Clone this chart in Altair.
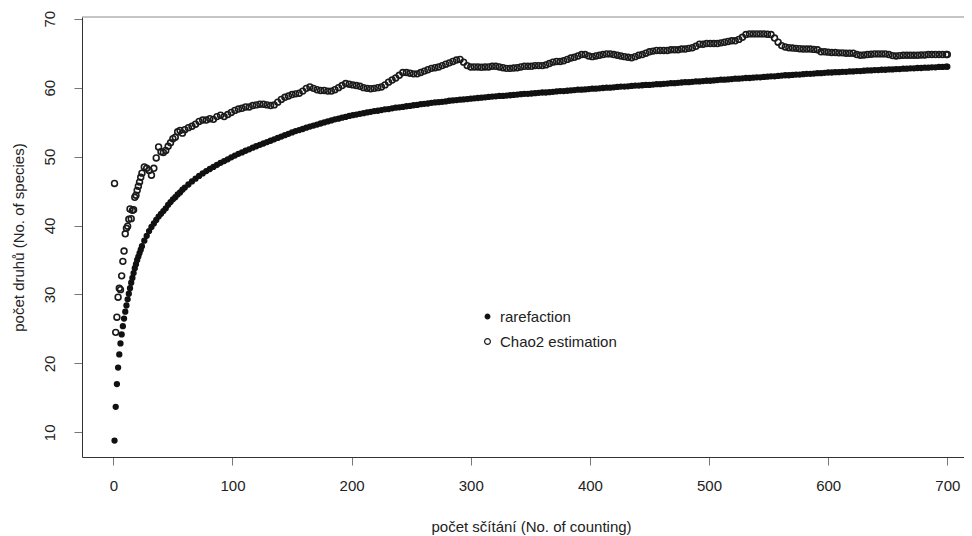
import altair as alt
import pandas as pd

# sampled counting numbers (x positions)
xs = list(range(1, 25)) + list(range(26, 61, 2)) + list(range(63, 700, 3)) + [700]

rarefaction = [
    8.8, 13.7, 17.0, 19.4, 21.3, 22.9, 24.2, 25.4, 26.5, 27.5, 28.4, 29.3,
    30.1, 30.9, 31.7, 32.4, 33.1, 33.8, 34.4, 35.0, 35.5, 36.0, 36.5, 37.0,
    37.8, 38.5, 39.2, 39.8, 40.3, 40.8, 41.3, 41.7, 42.1, 42.5, 43.0, 43.4,
    43.8, 44.1, 44.5, 44.8, 45.2, 45.5,
    45.95, 46.4, 46.8, 47.2, 47.55, 47.9, 48.2, 48.5, 48.8, 49.1,
    49.35, 49.6, 49.9, 50.15, 50.4, 50.6, 50.85, 51.05, 51.3, 51.5,
    51.7, 51.9, 52.1, 52.3, 52.5, 52.7, 52.9, 53.1, 53.3, 53.5,
    53.7, 53.85, 54.0, 54.2, 54.35, 54.5, 54.65, 54.8, 54.95, 55.1,
    55.25, 55.4, 55.5, 55.65, 55.75, 55.9, 56.0, 56.1, 56.2, 56.3,
    56.4, 56.5, 56.6, 56.65, 56.75, 56.85, 56.9, 57.0, 57.1, 57.15,
    57.2, 57.3, 57.35, 57.45, 57.5, 57.6, 57.65, 57.7, 57.8, 57.85,
    57.9, 57.95, 58.0, 58.1, 58.15, 58.2, 58.25, 58.3, 58.35, 58.4,
    58.45, 58.5, 58.55, 58.6, 58.65, 58.7, 58.75, 58.8, 58.8, 58.85,
    58.9, 58.95, 59.0, 59.05, 59.1, 59.1, 59.15, 59.2, 59.25, 59.3,
    59.3, 59.35, 59.4, 59.45, 59.5, 59.5, 59.55, 59.6, 59.65, 59.7,
    59.7, 59.75, 59.8, 59.85, 59.85, 59.9, 59.95, 60.0, 60.0, 60.05,
    60.1, 60.15, 60.15, 60.2, 60.25, 60.3, 60.3, 60.35, 60.4, 60.4,
    60.45, 60.5, 60.5, 60.55, 60.6, 60.65, 60.65, 60.7, 60.75, 60.8,
    60.8, 60.85, 60.9, 60.9, 60.95, 61.0, 61.0, 61.05, 61.1, 61.15,
    61.15, 61.2, 61.25, 61.3, 61.3, 61.35, 61.4, 61.4, 61.45, 61.5,
    61.5, 61.55, 61.6, 61.65, 61.65, 61.7, 61.75, 61.8, 61.8, 61.85,
    61.9, 61.9, 61.95, 62.0, 62.0, 62.05, 62.1, 62.1, 62.15, 62.2,
    62.2, 62.25, 62.25, 62.3, 62.3, 62.35, 62.35, 62.4, 62.4, 62.45,
    62.5, 62.5, 62.55, 62.55, 62.6, 62.6, 62.65, 62.65, 62.7, 62.7,
    62.75, 62.75, 62.8, 62.8, 62.85, 62.85, 62.9, 62.9, 62.95, 62.95,
    63.0, 63.0, 63.05,
    63.05,
]

chao2 = [
    46.1, 24.5, 26.7, 29.6, 30.9, 30.7, 32.7, 34.8, 36.3, 38.8, 39.6, 39.9,
    40.9, 42.4, 41.0, 42.2, 42.3, 44.1, 44.4, 45.1, 45.7, 46.3, 47.0, 47.6,
    48.5, 48.3, 48.0, 47.3, 48.3, 49.8, 51.4, 50.7, 50.6, 50.9, 51.5, 52.0,
    52.6, 52.8, 53.6, 53.8, 53.4, 53.9,
    54.2, 54.4, 54.7, 55.1, 55.3, 55.3, 55.5, 55.4, 55.8, 56.0,
    55.8, 56.1, 56.4, 56.7, 56.9, 57.0, 57.2, 57.2, 57.4, 57.5,
    57.6, 57.6, 57.5, 57.4, 57.5, 57.9, 58.3, 58.6, 58.8, 59.0,
    59.1, 59.2, 59.5, 59.9, 60.1, 59.9, 59.7, 59.6, 59.6, 59.5,
    59.5, 59.7, 60.0, 60.3, 60.6, 60.5, 60.4, 60.3, 60.2, 60.0,
    59.9, 59.85, 59.9, 60.0, 60.1, 60.4, 60.8, 61.1, 61.4, 61.8,
    62.2, 62.2, 62.1, 62.0, 62.0, 62.2, 62.4, 62.6, 62.8, 62.9,
    63.0, 63.2, 63.4, 63.6, 63.8, 64.0, 64.1, 63.7, 63.2, 63.0,
    63.0, 63.0, 62.95, 63.0, 63.0, 63.1, 63.1, 63.0, 62.9, 62.8,
    62.8, 62.85, 62.9, 63.0, 63.1, 63.1, 63.1, 63.2, 63.2, 63.2,
    63.3, 63.5, 63.7, 63.8, 63.8, 63.9, 64.1, 64.3, 64.4, 64.6,
    64.8, 64.8, 64.6, 64.5, 64.6, 64.7, 64.8, 64.9, 64.9, 64.8,
    64.7, 64.6, 64.5, 64.4, 64.35, 64.5, 64.7, 64.8, 65.0, 65.2,
    65.3, 65.4, 65.4, 65.4, 65.4, 65.5, 65.5, 65.5, 65.6, 65.6,
    65.7, 65.8, 66.0, 66.3, 66.3, 66.4, 66.4, 66.4, 66.4, 66.5,
    66.6, 66.7, 66.8, 66.8, 67.0, 67.3, 67.7, 67.8, 67.8, 67.8,
    67.8, 67.8, 67.75, 67.7, 67.2, 66.6, 66.1, 65.9, 65.8, 65.75,
    65.7, 65.65, 65.6, 65.6, 65.6, 65.55, 65.5, 65.2, 65.2, 65.15,
    65.1, 65.1, 65.05, 65.05, 65.0, 65.0, 65.0, 64.8, 64.7, 64.75,
    64.8, 64.85, 64.9, 64.9, 64.9, 64.9, 64.8, 64.65, 64.6, 64.65,
    64.7, 64.7, 64.7, 64.7, 64.7, 64.75, 64.75, 64.8, 64.8, 64.8,
    64.8, 64.8, 64.8,
    64.8,
]

assert len(xs) == len(rarefaction) == len(chao2), (len(xs), len(rarefaction), len(chao2))

series_names = ["rarefaction", "Chao2 estimation"]
x_ticks = [0, 100, 200, 300, 400, 500, 600, 700]
y_ticks = [10, 20, 30, 40, 50, 60, 70]

n = len(xs)
df = pd.DataFrame({
    "x": xs + xs,
    "y": rarefaction + chao2,
    "series": [series_names[0]] * n + [series_names[1]] * n,
})

W, H = 882, 440
FONT = "Liberation Sans"
TXT = "#222222"

legend = alt.Legend(
    title=None, orient="none", legendX=398, legendY=292,
    labelFont=FONT, labelFontSize=15, labelColor=TXT,
    symbolType="circle", symbolStrokeWidth=1.2,
    rowPadding=9, labelOffset=5, padding=0,
)

points = alt.Chart(df).mark_point(shape="circle", strokeWidth=1.6, opacity=1).encode(
    x=alt.X("x:Q",
            scale=alt.Scale(domain=[-26.3, 714], nice=False, zero=False),
            axis=alt.Axis(values=x_ticks, format="d", title="počet sčítání (No. of counting)",
                          tickSize=8, labelPadding=13, labelFlush=False,
                          titleX=449, titleY=69, titleAlign="center", titleBaseline="middle")),
    y=alt.Y("y:Q",
            scale=alt.Scale(domain=[6.42, 70.25], nice=False, zero=False),
            axis=alt.Axis(values=y_ticks, format="d", title="počet druhů (No. of species)",
                          tickSize=8, labelPadding=20, labelAngle=270,
                          labelAlign="center", labelBaseline="alphabetic",
                          titleAngle=270, titleX=-64, titleY=220,
                          titleAlign="center", titleBaseline="middle")),
    fill=alt.Fill("series:N", scale=alt.Scale(domain=series_names, range=["#111111", "transparent"]),
                  legend=legend),
    stroke=alt.Stroke("series:N", scale=alt.Scale(domain=series_names, range=["#111111", "#1a1a1a"]),
                      legend=legend),
    size=alt.Size("series:N", scale=alt.Scale(domain=series_names, range=[22, 34]), legend=legend),
)

top_border = alt.Chart(pd.DataFrame({"a": [0]})).mark_rule(color="#8a8a8a", strokeWidth=1).encode(
    x=alt.value(0), x2=alt.value(W), y=alt.value(0)
)

chart = alt.layer(points, top_border).properties(
    width=W, height=H,
    padding={"left": 74, "top": 9, "right": 0, "bottom": 78},
    autosize=alt.AutoSizeParams(type="none"),
).configure_view(stroke=None).configure_axis(
    grid=False, domainColor="#333333", domainWidth=1, tickColor="#777777", tickWidth=1,
    labelFont=FONT, labelFontSize=15, labelColor=TXT,
    titleFont=FONT, titleFontSize=15, titleFontWeight="normal", titleColor=TXT,
)

chart.save("out.html", embed_options={"renderer": "svg", "actions": False})
